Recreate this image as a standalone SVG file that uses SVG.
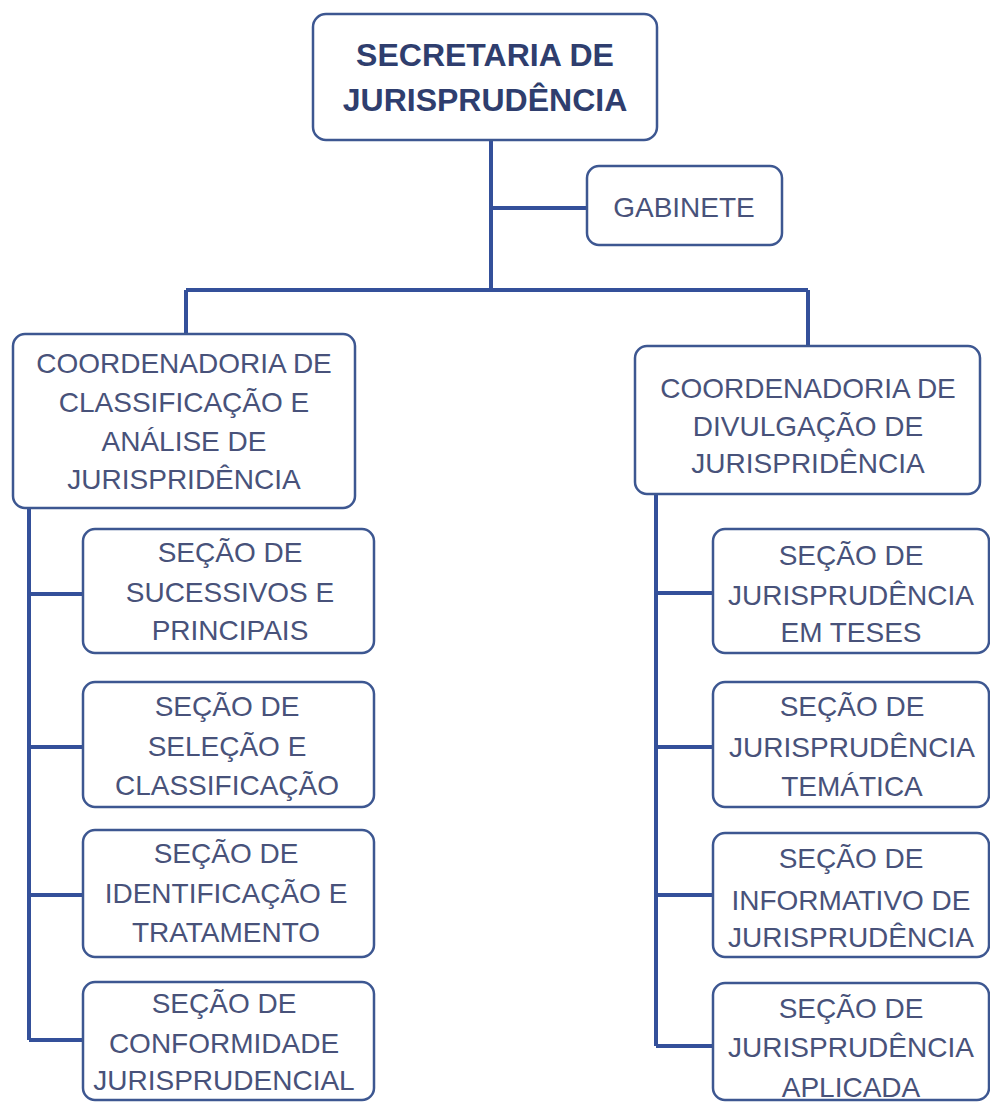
<svg xmlns="http://www.w3.org/2000/svg" width="990" height="1102" viewBox="0 0 990 1102">
<style>
.box{fill:#ffffff;stroke:#3d5791;stroke-width:2.5}
.t{font-family:"Liberation Sans",Arial,sans-serif;font-size:28px;fill:#48527a;text-anchor:middle}
.tb{font-family:"Liberation Sans",Arial,sans-serif;font-size:32px;font-weight:bold;fill:#2f3e6e;text-anchor:middle}
.c{fill:none;stroke:#34509a;stroke-width:4}
</style>
<rect width="990" height="1102" fill="#ffffff"/>
<g id="connectors">
<path class="c" d="M491 140V290M491 208H587M186 290H808M186 290V334M808 290V346"/>
<path class="c" d="M29 508V1040M29 594H83M29 747H83M29 895H83M29 1040H83"/>
<path class="c" d="M656 494V1046M656 593H713M656 747H713M656 895H713M656 1046H713"/>
</g>
<g id="secretaria">
<rect class="box" x="313" y="14" width="344" height="126" rx="13"/>
<text class="tb" x="485" y="66">SECRETARIA DE</text>
<text class="tb" x="485" y="111">JURISPRUDÊNCIA</text>
</g>
<g id="gabinete">
<rect class="box" x="587" y="166" width="195" height="79" rx="12"/>
<text class="t" x="684" y="217">GABINETE</text>
</g>
<g id="coord-classificacao">
<rect class="box" x="13" y="334" width="342" height="174" rx="12"/>
<text class="t" x="184" y="373">COORDENADORIA DE</text>
<text class="t" x="184" y="412">CLASSIFICAÇÃO E</text>
<text class="t" x="184" y="451">ANÁLISE DE</text>
<text class="t" x="184" y="489">JURISPRIDÊNCIA</text>
</g>
<g id="coord-divulgacao">
<rect class="box" x="635" y="346" width="345" height="148" rx="12"/>
<text class="t" x="808" y="398">COORDENADORIA DE</text>
<text class="t" x="808" y="436">DIVULGAÇÃO DE</text>
<text class="t" x="808" y="473">JURISPRIDÊNCIA</text>
</g>
<g id="sec-sucessivos">
<rect class="box" x="83" y="529" width="291" height="124" rx="12"/>
<text class="t" x="230" y="562">SEÇÃO DE</text>
<text class="t" x="230" y="602">SUCESSIVOS E</text>
<text class="t" x="230" y="640">PRINCIPAIS</text>
</g>
<g id="sec-selecao">
<rect class="box" x="83" y="682" width="291" height="125" rx="12"/>
<text class="t" x="227" y="716">SEÇÃO DE</text>
<text class="t" x="227" y="756">SELEÇÃO E</text>
<text class="t" x="227" y="795">CLASSIFICAÇÃO</text>
</g>
<g id="sec-identificacao">
<rect class="box" x="83" y="830" width="291" height="127" rx="12"/>
<text class="t" x="226" y="863">SEÇÃO DE</text>
<text class="t" x="226" y="903">IDENTIFICAÇÃO E</text>
<text class="t" x="226" y="942">TRATAMENTO</text>
</g>
<g id="sec-conformidade">
<rect class="box" x="83" y="982" width="291" height="118" rx="12"/>
<text class="t" x="224" y="1013">SEÇÃO DE</text>
<text class="t" x="224" y="1053">CONFORMIDADE</text>
<text class="t" x="224" y="1090">JURISPRUDENCIAL</text>
</g>
<g id="sec-teses">
<rect class="box" x="713" y="529" width="276" height="124" rx="12"/>
<text class="t" x="851" y="565">SEÇÃO DE</text>
<text class="t" x="851" y="605">JURISPRUDÊNCIA</text>
<text class="t" x="851" y="642">EM TESES</text>
</g>
<g id="sec-tematica">
<rect class="box" x="713" y="682" width="276" height="125" rx="12"/>
<text class="t" x="852" y="716">SEÇÃO DE</text>
<text class="t" x="852" y="757">JURISPRUDÊNCIA</text>
<text class="t" x="852" y="796">TEMÁTICA</text>
</g>
<g id="sec-informativo">
<rect class="box" x="713" y="833" width="276" height="124" rx="12"/>
<text class="t" x="851" y="868">SEÇÃO DE</text>
<text class="t" x="851" y="910">INFORMATIVO DE</text>
<text class="t" x="851" y="947">JURISPRUDÊNCIA</text>
</g>
<g id="sec-aplicada">
<rect class="box" x="713" y="983" width="276" height="117" rx="12"/>
<text class="t" x="851" y="1018">SEÇÃO DE</text>
<text class="t" x="851" y="1057">JURISPRUDÊNCIA</text>
<text class="t" x="851" y="1097">APLICADA</text>
</g>
</svg>
